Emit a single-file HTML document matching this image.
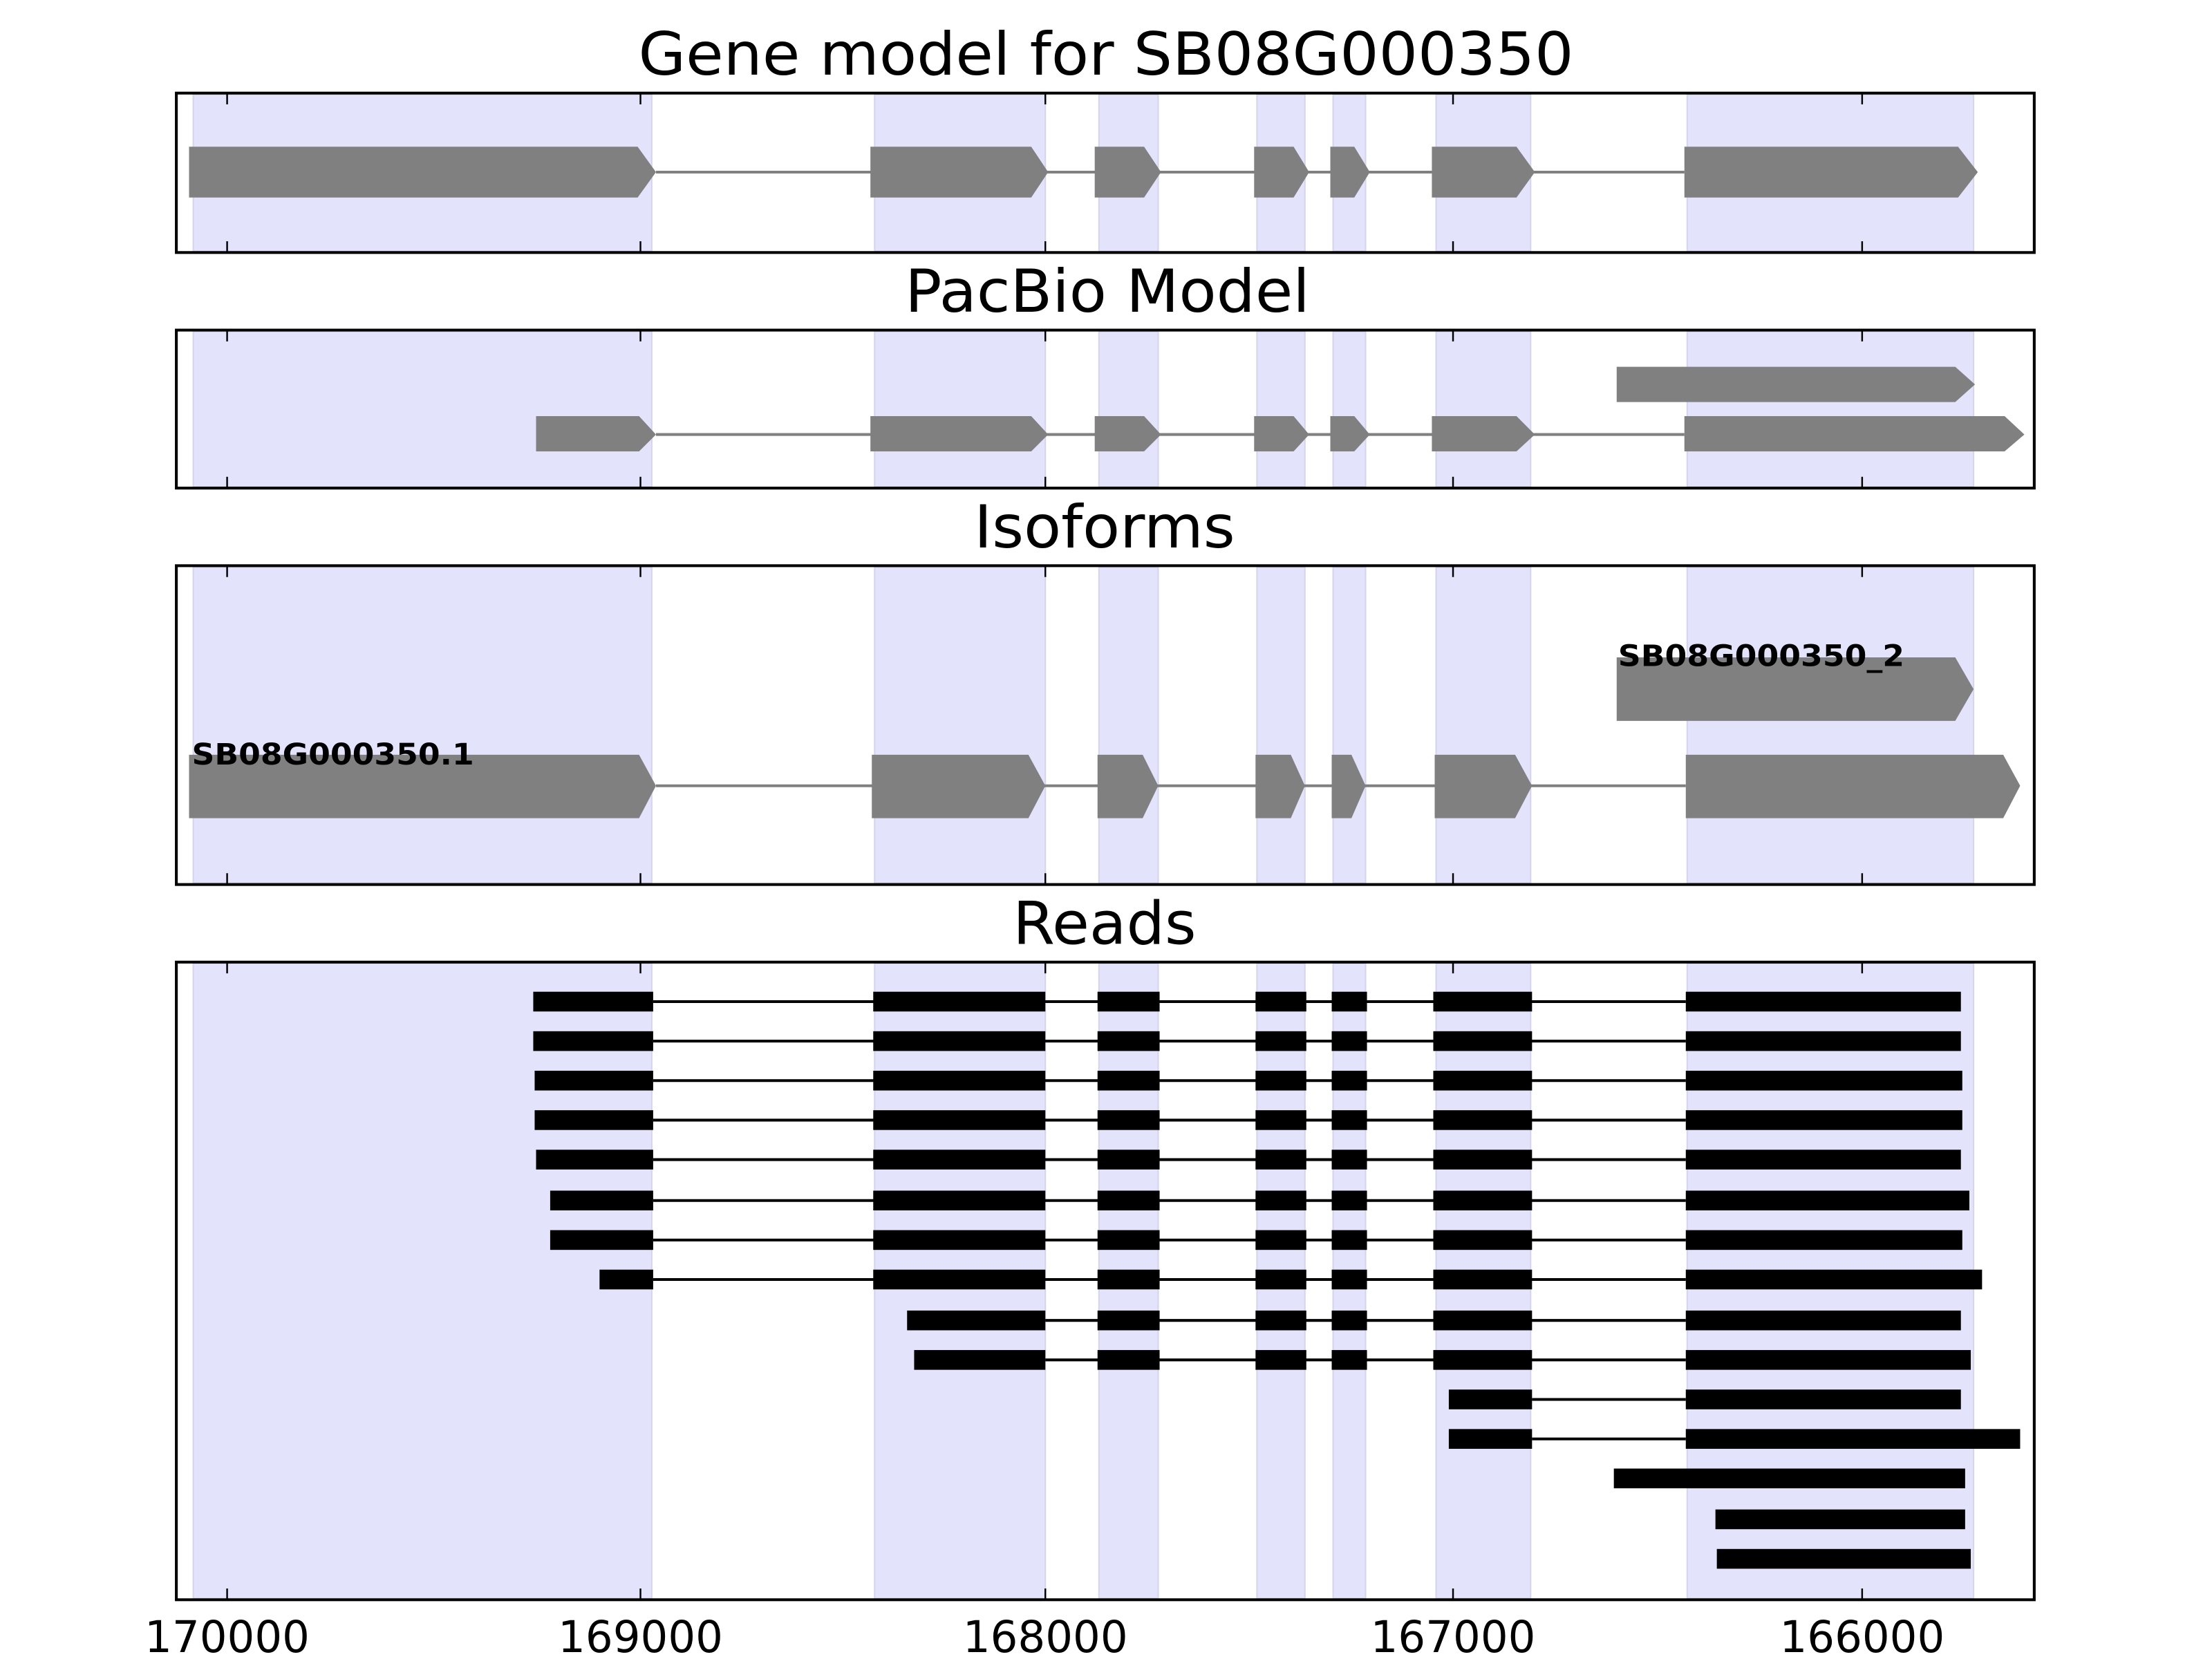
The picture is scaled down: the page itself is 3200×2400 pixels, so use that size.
<!DOCTYPE html>
<html><head><meta charset="utf-8"><style>html,body{margin:0;padding:0;background:#fff}svg{display:block}</style></head>
<body>
<svg width="3200" height="2400" viewBox="0 0 1568 1176" xmlns="http://www.w3.org/2000/svg" font-family="'DejaVu Sans','Liberation Sans',sans-serif">
<rect width="1568" height="1176" fill="#fff"/>
<g fill="#e3e3fc" stroke="#d4d4ee" stroke-width="1">
<rect x="137" y="67" width="325" height="111"/><rect x="620" y="67" width="121" height="111"/><rect x="779" y="67" width="42" height="111"/><rect x="891" y="67" width="34" height="111"/><rect x="945" y="67" width="23" height="111"/><rect x="1018" y="67" width="67" height="111"/><rect x="1196" y="67" width="203" height="111"/>
<rect x="137" y="235" width="325" height="110"/><rect x="620" y="235" width="121" height="110"/><rect x="779" y="235" width="42" height="110"/><rect x="891" y="235" width="34" height="110"/><rect x="945" y="235" width="23" height="110"/><rect x="1018" y="235" width="67" height="110"/><rect x="1196" y="235" width="203" height="110"/>
<rect x="137" y="402" width="325" height="224"/><rect x="620" y="402" width="121" height="224"/><rect x="779" y="402" width="42" height="224"/><rect x="891" y="402" width="34" height="224"/><rect x="945" y="402" width="23" height="224"/><rect x="1018" y="402" width="67" height="224"/><rect x="1196" y="402" width="203" height="224"/>
<rect x="137" y="683" width="325" height="450"/><rect x="620" y="683" width="121" height="450"/><rect x="779" y="683" width="42" height="450"/><rect x="891" y="683" width="34" height="450"/><rect x="945" y="683" width="23" height="450"/><rect x="1018" y="683" width="67" height="450"/><rect x="1196" y="683" width="203" height="450"/>
</g>
<g stroke="#808080" stroke-width="2"><line x1="465" y1="122" x2="1194" y2="122"/><line x1="465" y1="308" x2="1194" y2="308"/><line x1="465" y1="557" x2="1195" y2="557"/></g>
<g fill="#808080">
<polygon points="134,104 452,104 465,122 452,140 134,140"/>
<polygon points="617,104 731,104 743,122 731,140 617,140"/>
<polygon points="776,104 811,104 823,122 811,140 776,140"/>
<polygon points="889,104 917,104 928,122 917,140 889,140"/>
<polygon points="943,104 960,104 971,122 960,140 943,140"/>
<polygon points="1015,104 1075,104 1088,122 1075,140 1015,140"/>
<polygon points="1194,104 1388,104 1402,122 1388,140 1194,140"/>
<polygon points="1146,260 1386,260 1400,272.5 1386,285 1146,285"/>
<polygon points="380,295 453,295 465,308 453,320 380,320"/>
<polygon points="617,295 731,295 743,308 731,320 617,320"/>
<polygon points="776,295 811,295 823,308 811,320 776,320"/>
<polygon points="889,295 917,295 928,308 917,320 889,320"/>
<polygon points="943,295 960,295 971,308 960,320 943,320"/>
<polygon points="1015,295 1075,295 1088,308 1075,320 1015,320"/>
<polygon points="1194,295 1421,295 1435,308 1421,320 1194,320"/>
<polygon points="1146,466 1386,466 1399,488.5 1386,511 1146,511"/>
<polygon points="134,535 453,535 465,557 453,580 134,580"/>
<polygon points="618,535 729,535 741,557 729,580 618,580"/>
<polygon points="778,535 810,535 821,557 810,580 778,580"/>
<polygon points="890,535 915,535 925,557 915,580 890,580"/>
<polygon points="944,535 958,535 968,557 958,580 944,580"/>
<polygon points="1017,535 1074,535 1086,557 1074,580 1017,580"/>
<polygon points="1195,535 1420,535 1432,557 1420,580 1195,580"/>
</g>
<g font-weight="bold" font-size="21" fill="#000">
<text x="1147" y="472" textLength="203" lengthAdjust="spacingAndGlyphs">SB08G000350_2</text>
<text x="136" y="542" textLength="200" lengthAdjust="spacingAndGlyphs">SB08G000350.1</text>
</g>
<g stroke="#000" stroke-width="2">
<line x1="463" y1="710" x2="1195" y2="710"/><line x1="463" y1="738" x2="1195" y2="738"/><line x1="463" y1="766" x2="1195" y2="766"/><line x1="463" y1="794" x2="1195" y2="794"/><line x1="463" y1="822" x2="1195" y2="822"/><line x1="463" y1="851" x2="1195" y2="851"/><line x1="463" y1="879" x2="1195" y2="879"/><line x1="463" y1="907" x2="1195" y2="907"/><line x1="741" y1="936" x2="1195" y2="936"/><line x1="741" y1="964" x2="1195" y2="964"/><line x1="1086" y1="992" x2="1195" y2="992"/><line x1="1086" y1="1020" x2="1195" y2="1020"/>
</g>
<g fill="#000">
<g><rect x="378" y="703" width="85" height="14"/><rect x="619" y="703" width="122" height="14"/><rect x="778" y="703" width="44" height="14"/><rect x="890" y="703" width="36" height="14"/><rect x="944" y="703" width="25" height="14"/><rect x="1016" y="703" width="70" height="14"/><rect x="1195" y="703" width="195" height="14"/></g>
<g transform="translate(0,28)"><rect x="378" y="703" width="85" height="14"/><rect x="619" y="703" width="122" height="14"/><rect x="778" y="703" width="44" height="14"/><rect x="890" y="703" width="36" height="14"/><rect x="944" y="703" width="25" height="14"/><rect x="1016" y="703" width="70" height="14"/><rect x="1195" y="703" width="195" height="14"/></g>
<g transform="translate(0,56)"><rect x="379" y="703" width="84" height="14"/><rect x="619" y="703" width="122" height="14"/><rect x="778" y="703" width="44" height="14"/><rect x="890" y="703" width="36" height="14"/><rect x="944" y="703" width="25" height="14"/><rect x="1016" y="703" width="70" height="14"/><rect x="1195" y="703" width="196" height="14"/></g>
<g transform="translate(0,84)"><rect x="379" y="703" width="84" height="14"/><rect x="619" y="703" width="122" height="14"/><rect x="778" y="703" width="44" height="14"/><rect x="890" y="703" width="36" height="14"/><rect x="944" y="703" width="25" height="14"/><rect x="1016" y="703" width="70" height="14"/><rect x="1195" y="703" width="196" height="14"/></g>
<g transform="translate(0,112)"><rect x="380" y="703" width="83" height="14"/><rect x="619" y="703" width="122" height="14"/><rect x="778" y="703" width="44" height="14"/><rect x="890" y="703" width="36" height="14"/><rect x="944" y="703" width="25" height="14"/><rect x="1016" y="703" width="70" height="14"/><rect x="1195" y="703" width="195" height="14"/></g>
<g transform="translate(0,141)"><rect x="390" y="703" width="73" height="14"/><rect x="619" y="703" width="122" height="14"/><rect x="778" y="703" width="44" height="14"/><rect x="890" y="703" width="36" height="14"/><rect x="944" y="703" width="25" height="14"/><rect x="1016" y="703" width="70" height="14"/><rect x="1195" y="703" width="201" height="14"/></g>
<g transform="translate(0,169)"><rect x="390" y="703" width="73" height="14"/><rect x="619" y="703" width="122" height="14"/><rect x="778" y="703" width="44" height="14"/><rect x="890" y="703" width="36" height="14"/><rect x="944" y="703" width="25" height="14"/><rect x="1016" y="703" width="70" height="14"/><rect x="1195" y="703" width="196" height="14"/></g>
<g transform="translate(0,197)"><rect x="425" y="703" width="38" height="14"/><rect x="619" y="703" width="122" height="14"/><rect x="778" y="703" width="44" height="14"/><rect x="890" y="703" width="36" height="14"/><rect x="944" y="703" width="25" height="14"/><rect x="1016" y="703" width="70" height="14"/><rect x="1195" y="703" width="210" height="14"/></g>
<g transform="translate(0,226)"><rect x="643" y="703" width="98" height="14"/><rect x="778" y="703" width="44" height="14"/><rect x="890" y="703" width="36" height="14"/><rect x="944" y="703" width="25" height="14"/><rect x="1016" y="703" width="70" height="14"/><rect x="1195" y="703" width="195" height="14"/></g>
<g transform="translate(0,254)"><rect x="648" y="703" width="93" height="14"/><rect x="778" y="703" width="44" height="14"/><rect x="890" y="703" width="36" height="14"/><rect x="944" y="703" width="25" height="14"/><rect x="1016" y="703" width="70" height="14"/><rect x="1195" y="703" width="202" height="14"/></g>
<g transform="translate(0,282)"><rect x="1027" y="703" width="59" height="14"/><rect x="1195" y="703" width="195" height="14"/></g>
<g transform="translate(0,310)"><rect x="1027" y="703" width="59" height="14"/><rect x="1195" y="703" width="237" height="14"/></g>
<g transform="translate(0,338)"><rect x="1144" y="703" width="249" height="14"/></g>
<g transform="translate(0,367)"><rect x="1216" y="703" width="177" height="14"/></g>
<g transform="translate(0,395)"><rect x="1217" y="703" width="180" height="14"/></g>
</g>
<g fill="none" stroke="#000" stroke-width="2">
<rect x="125" y="66" width="1317" height="113"/>
<rect x="125" y="234" width="1317" height="112"/>
<rect x="125" y="401" width="1317" height="226"/>
<rect x="125" y="682" width="1317" height="452"/>
</g>
<g stroke="#000" stroke-width="1.2">
<path d="M161,66v8M454,66v8M741,66v8M1030,66v8M1320,66v8M161,179v-8M454,179v-8M741,179v-8M1030,179v-8M1320,179v-8"/>
<path d="M161,234v8M454,234v8M741,234v8M1030,234v8M1320,234v8M161,346v-8M454,346v-8M741,346v-8M1030,346v-8M1320,346v-8"/>
<path d="M161,401v8M454,401v8M741,401v8M1030,401v8M1320,401v8M161,627v-8M454,627v-8M741,627v-8M1030,627v-8M1320,627v-8"/>
<path d="M161,682v8M454,682v8M741,682v8M1030,682v8M1320,682v8M161,1134v-8M454,1134v-8M741,1134v-8M1030,1134v-8M1320,1134v-8"/>
</g>
<g font-size="42" text-anchor="middle" fill="#000">
<text x="784" y="53" textLength="663" lengthAdjust="spacingAndGlyphs">Gene model for SB08G000350</text>
<text x="785" y="221" textLength="287" lengthAdjust="spacingAndGlyphs">PacBio Model</text>
<text x="783" y="388" textLength="185" lengthAdjust="spacingAndGlyphs">Isoforms</text>
<text x="783" y="669" textLength="130" lengthAdjust="spacingAndGlyphs">Reads</text>
</g>
<g font-size="31" text-anchor="middle" fill="#000">
<text x="161" y="1171" textLength="117" lengthAdjust="spacingAndGlyphs">170000</text>
<text x="454" y="1171" textLength="117" lengthAdjust="spacingAndGlyphs">169000</text>
<text x="741" y="1171" textLength="117" lengthAdjust="spacingAndGlyphs">168000</text>
<text x="1030" y="1171" textLength="117" lengthAdjust="spacingAndGlyphs">167000</text>
<text x="1320" y="1171" textLength="117" lengthAdjust="spacingAndGlyphs">166000</text>
</g>
</svg>
</body></html>
